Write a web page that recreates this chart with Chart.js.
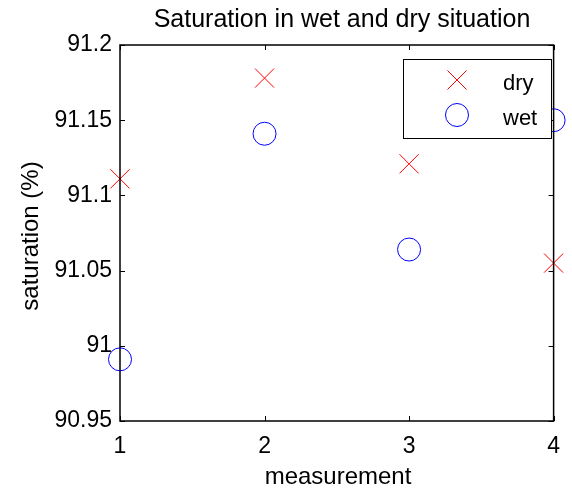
<!DOCTYPE html>
<html>
<head>
<meta charset="utf-8">
<style>
  html, body { margin: 0; padding: 0; background: #fff; }
  canvas { display: block; }
</style>
<script src="https://cdn.jsdelivr.net/npm/chart.js@4/dist/chart.umd.min.js"></script>
</head>
<body>
<canvas id="c" width="572" height="488"></canvas>
<script>
const categories = [1, 2, 3, 4];
const dryValues = [91.111, 91.178, 91.121, 91.055];
const wetValues = [90.991, 91.141, 91.064, 91.150];
const xTicks = [1, 2, 3, 4];
const yTicks = [90.95, 91, 91.05, 91.1, 91.15, 91.2];
const titleText = 'Saturation in wet and dry situation';
const xTitle = 'measurement';
const yTitle = 'saturation (%)';

const FONT = '"Liberation Sans", Arial, Helvetica, sans-serif';

const boxPlugin = {
  id: 'matlabBox',
  afterDraw(chart) {
    const ctx = chart.ctx;
    const a = chart.chartArea;
    const xs = chart.scales.x, ys = chart.scales.y;
    ctx.save();
    ctx.strokeStyle = '#000';
    ctx.lineWidth = 1.5;
    ctx.strokeRect(a.left, a.top, a.right - a.left, a.bottom - a.top);
    ctx.lineWidth = 1;
    ctx.beginPath();
    xTicks.forEach(v => {
      const px = Math.round(xs.getPixelForValue(v)) + 0.5;
      ctx.moveTo(px, a.bottom); ctx.lineTo(px, a.bottom - 5);
      ctx.moveTo(px, a.top); ctx.lineTo(px, a.top + 5);
    });
    yTicks.forEach(v => {
      const py = Math.round(ys.getPixelForValue(v)) + 0.5;
      ctx.moveTo(a.left, py); ctx.lineTo(a.left + 5, py);
      ctx.moveTo(a.right, py); ctx.lineTo(a.right - 5, py);
    });
    ctx.stroke();

    // title
    ctx.fillStyle = '#000';
    ctx.font = '25px ' + FONT;
    ctx.textAlign = 'center';
    ctx.textBaseline = 'alphabetic';
    ctx.fillText(titleText, 342, 27);
    // axis titles
    ctx.font = '24px ' + FONT;
    ctx.fillText(xTitle, 338, 484);
    ctx.save();
    ctx.translate(38, 236);
    ctx.rotate(-Math.PI / 2);
    ctx.fillText(yTitle, 0, 0);
    ctx.restore();

    // legend
    ctx.fillStyle = '#fff';
    ctx.fillRect(403, 59, 148, 79);
    ctx.strokeStyle = '#000';
    ctx.lineWidth = 1;
    ctx.strokeRect(403.5, 59.5, 148, 79);
    const ds = chart.data.datasets;
    const rows = [80, 115];
    ds.forEach((d, i) => {
      const cx = 457, cy = rows[i];
      ctx.strokeStyle = d.borderColor;
      ctx.lineWidth = 1;
      ctx.beginPath();
      if (d.pointStyle === 'crossRot') {
        const o = d.pointRadius * Math.SQRT1_2;
        ctx.moveTo(cx - o, cy - o); ctx.lineTo(cx + o, cy + o);
        ctx.moveTo(cx - o, cy + o); ctx.lineTo(cx + o, cy - o);
      } else {
        ctx.arc(cx, cy, d.pointRadius, 0, Math.PI * 2);
      }
      ctx.stroke();
      ctx.fillStyle = '#000';
      ctx.font = '22px ' + FONT;
      ctx.textAlign = 'left';
      ctx.fillText(d.label, 503, cy + 10);
    });
    ctx.restore();
  }
};

new Chart(document.getElementById('c'), {
  type: 'scatter',
  data: {
    datasets: [
      {
        label: 'dry',
        data: categories.map((x, i) => ({ x: x, y: dryValues[i] })),
        pointStyle: 'crossRot',
        pointRadius: 13.5,
        pointHoverRadius: 13.5,
        borderColor: '#ff0000',
        backgroundColor: 'rgba(0,0,0,0)',
        pointBorderWidth: 1,
        clip: false
      },
      {
        label: 'wet',
        data: categories.map((x, i) => ({ x: x, y: wetValues[i] })),
        pointStyle: 'circle',
        pointRadius: 11.5,
        pointHoverRadius: 11.5,
        borderColor: '#0000ff',
        backgroundColor: 'rgba(0,0,0,0)',
        pointBorderWidth: 1,
        clip: false
      }
    ]
  },
  options: {
    responsive: false,
    animation: false,
    devicePixelRatio: 1,
    layout: { padding: { left: 0, right: 11, top: 45, bottom: 0 } },
    plugins: {
      legend: { display: false },
      title: { display: false },
      tooltip: { enabled: false }
    },
    scales: {
      x: {
        type: 'linear',
        min: 1,
        max: 4,
        afterBuildTicks: s => { s.ticks = xTicks.map(v => ({ value: v })); },
        afterFit: s => { s.height = 67; },
        grid: { display: false, drawTicks: false },
        border: { display: false },
        ticks: {
          color: '#000',
          font: { size: 23, family: FONT },
          padding: 12,
          maxRotation: 0,
          autoSkip: false,
          callback: v => String(v)
        }
      },
      y: {
        type: 'linear',
        min: 90.95,
        max: 91.2,
        afterBuildTicks: s => { s.ticks = yTicks.map(v => ({ value: v })); },
        afterFit: s => { s.width = 120; },
        grid: { display: false, drawTicks: false },
        border: { display: false },
        ticks: {
          color: '#000',
          font: { size: 23, family: FONT },
          padding: 8,
          autoSkip: false,
          callback: v => String(v)
        }
      }
    }
  },
  plugins: [boxPlugin]
});
</script>
</body>
</html>
